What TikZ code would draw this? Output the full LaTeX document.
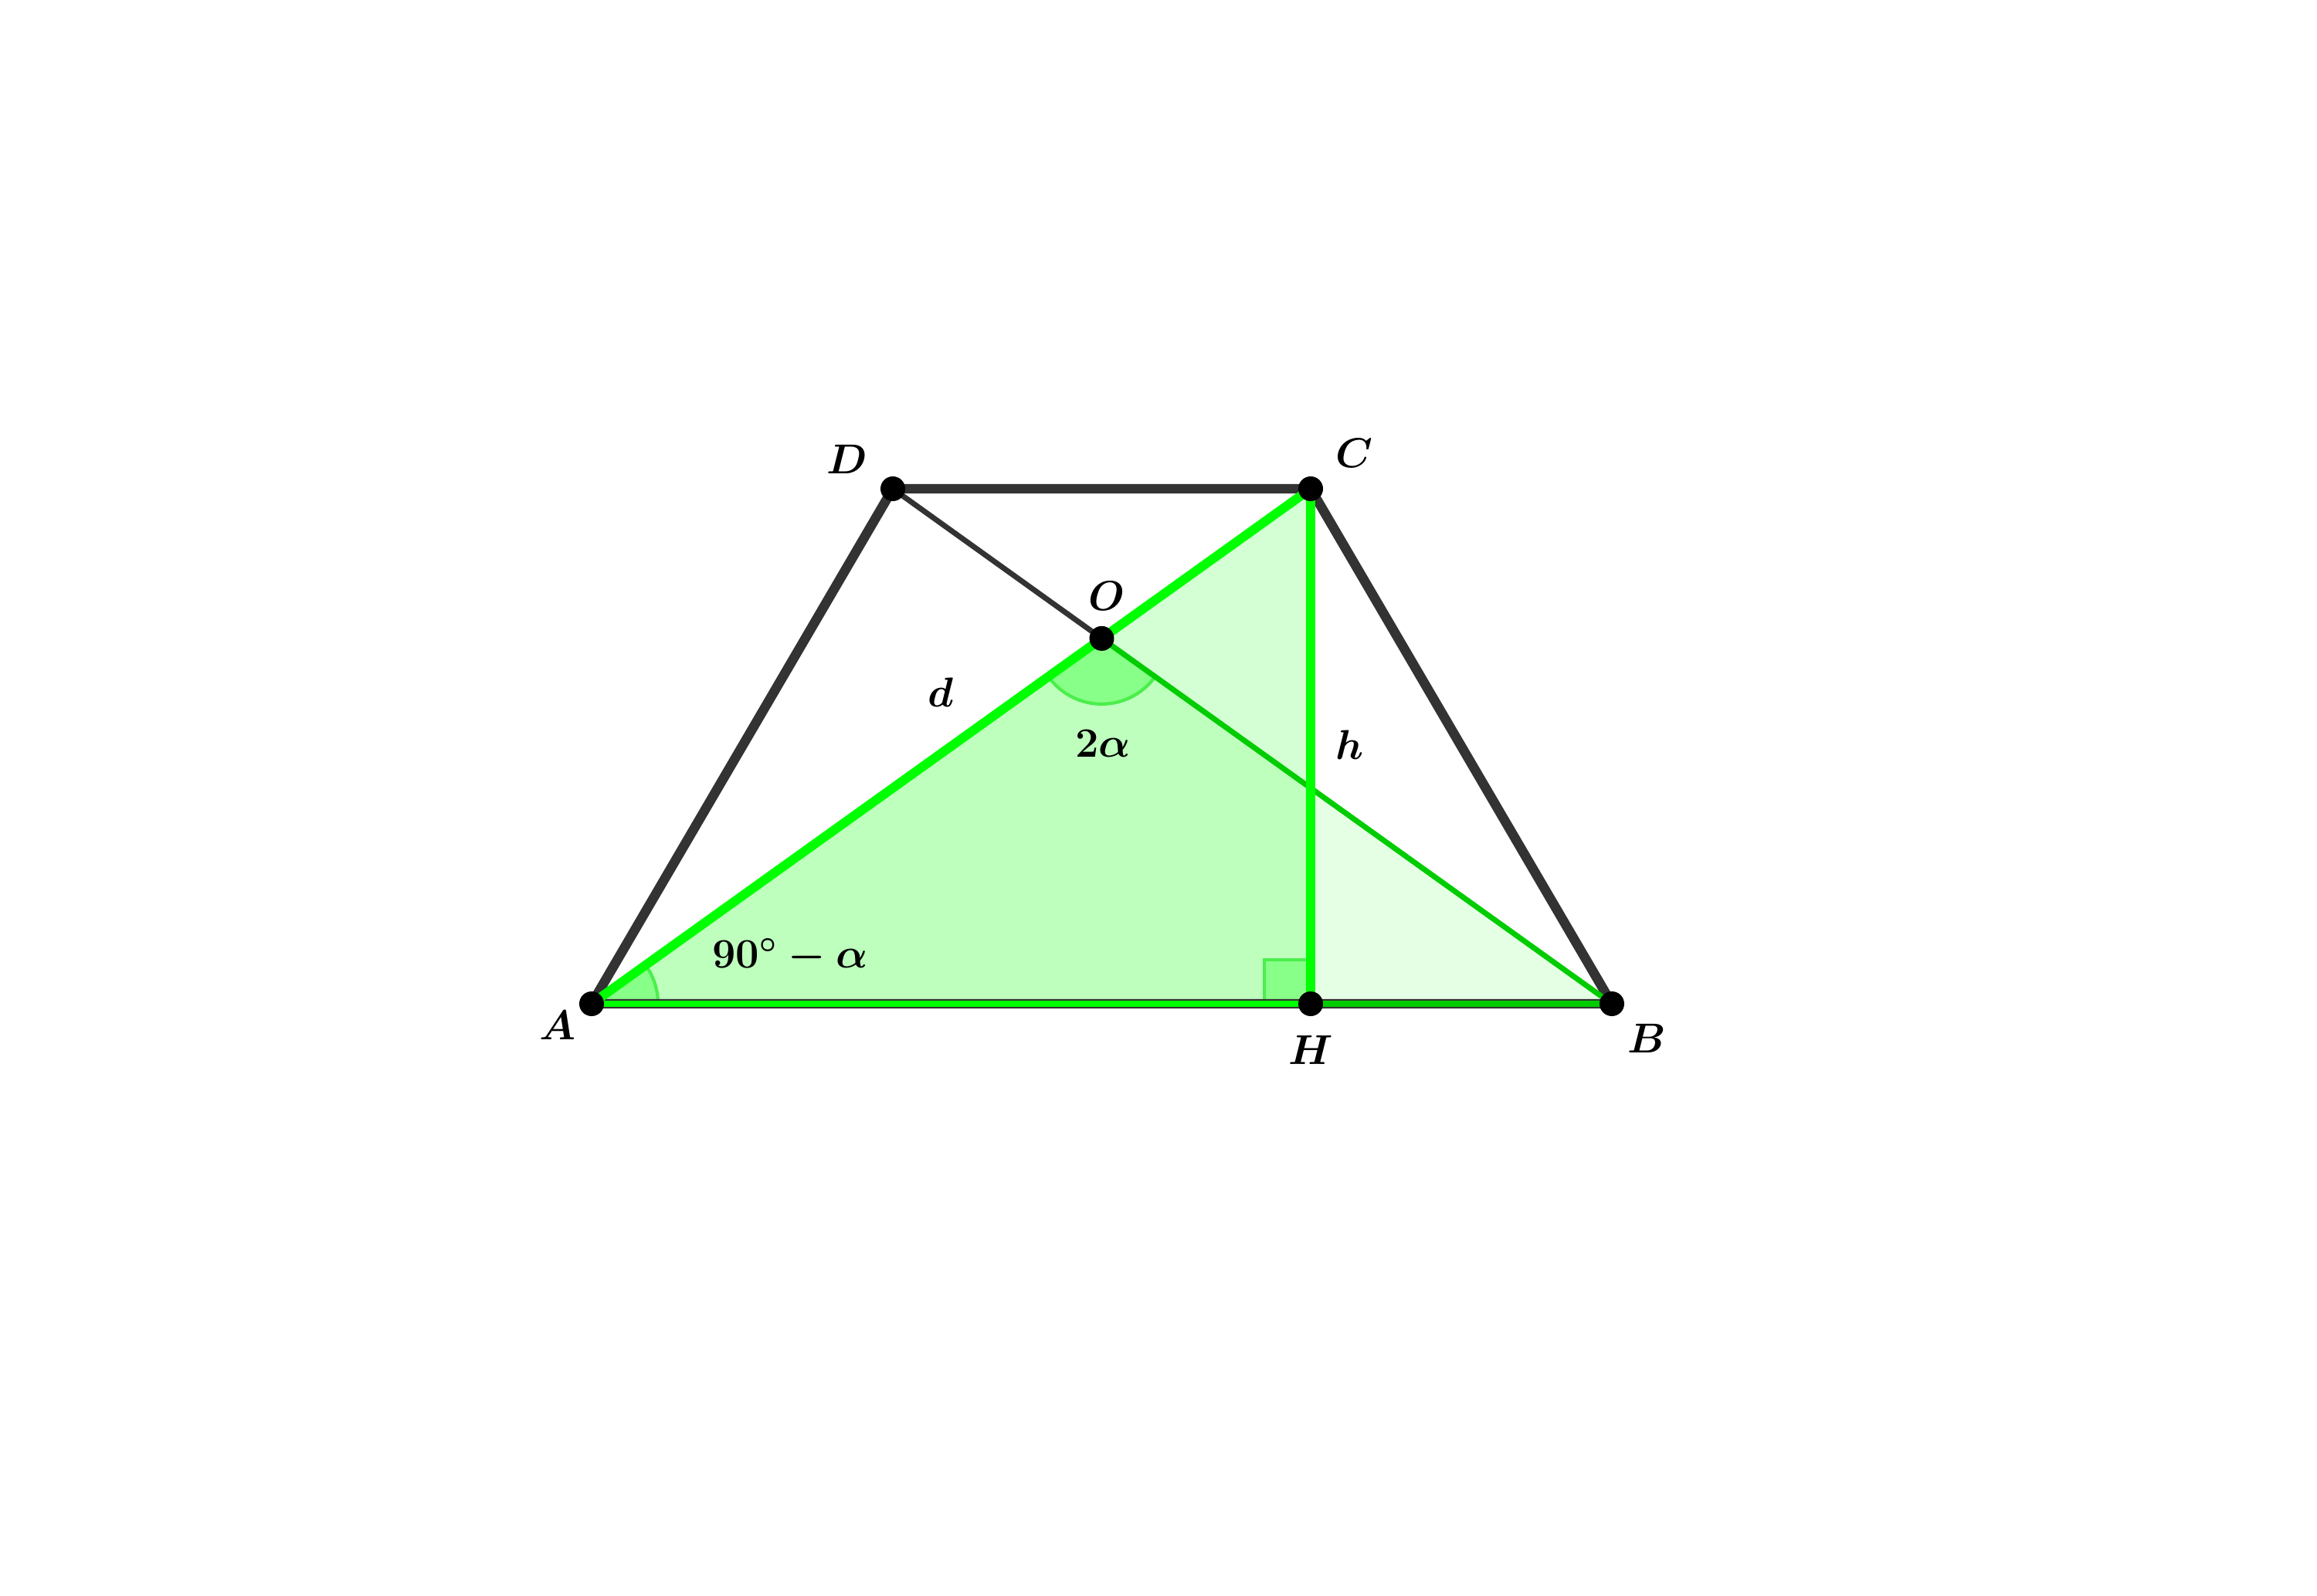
\documentclass[tikz,border=0pt]{standalone}
\usepackage{fix-cm}
\usepackage{amsmath}
\usepackage{xcolor}
\usetikzlibrary{angles}
\definecolor{edgegray}{HTML}{333333}
\definecolor{lime}{HTML}{00FF00}
\definecolor{darklime}{HTML}{00CC00}
\definecolor{anglefill}{HTML}{88FF88}
\definecolor{angleline}{HTML}{4CEE4C}
\tikzset{
  trap/.style={edgegray,line width=3.55pt},
  diag/.style={edgegray,line width=2pt},
  hi/.style={lime,line width=3.4pt},
  lo/.style={darklime,line width=2pt},
  angmark/.style={fill=anglefill,draw=angleline,line width=1.2pt},
  lbl/.style={font=\fontsize{15.4}{18}\selectfont\boldmath,inner sep=1pt}
}

\begin{document}
\begin{tikzpicture}
  \useasboundingbox (0,0) rectangle (30,20.66);
  \coordinate (A) at (7.66,7.66);
  \coordinate (H) at (16.97,7.66);
  \coordinate (B) at (20.87,7.66);
  \coordinate (C) at (16.97,14.33);
  \coordinate (D) at (11.56,14.33);
  \coordinate (O) at (intersection of A--C and B--D);
  \fill [lime,opacity=0.1](A) -- (O) -- (B) -- cycle;
  \fill [lime,opacity=0.17](A) -- (H) -- (C) -- cycle;
  \pic [angmark,angle radius=0.86cm]{angle=H--A--C};
  \pic [angmark,angle radius=0.85cm]{angle=A--O--B};
  \filldraw [angmark](H) ++(-0.6,0) rectangle ++(0.6,0.57);
  \draw [trap](A) -- (B) -- (C) -- (D) -- cycle;
  \draw [diag](D) -- (O);
  \draw [lo](O) -- (B);
  \draw [darklime,line width=2.3pt](A) -- (B);
  \draw [lime,line width=2.3pt](A) -- (H);
  \draw [hi](A) -- (C);
  \draw [hi](C) -- (H);
  \foreach \p in {A,B,C,D,O,H}
    \fill [black](\p) circle (0.16);
  \node [lbl] at(7.22,7.38)(labA){$A$};
  \node [lbl] at(21.32,7.21)(labB){$B$};
  \node [lbl] at(17.53,14.79)(labC){$C$};
  \node [lbl] at(10.97,14.71)(labD){$D$};
  \node [lbl] at(14.33,12.94)(labO){$O$};
  \node [lbl] at(16.97,7.06)(labH){$H$};
  \node [lbl] at(12.18,11.69)(labd){$d$};
  \node [lbl] at(17.48,11.01)(labh){$h$};
  \node [lbl] at(14.28,11.03)(lab2a){$2\alpha$};
  \node [lbl] at(10.23,8.28)(labang){$90^\circ-\alpha$};
\end{tikzpicture}
\end{document}
